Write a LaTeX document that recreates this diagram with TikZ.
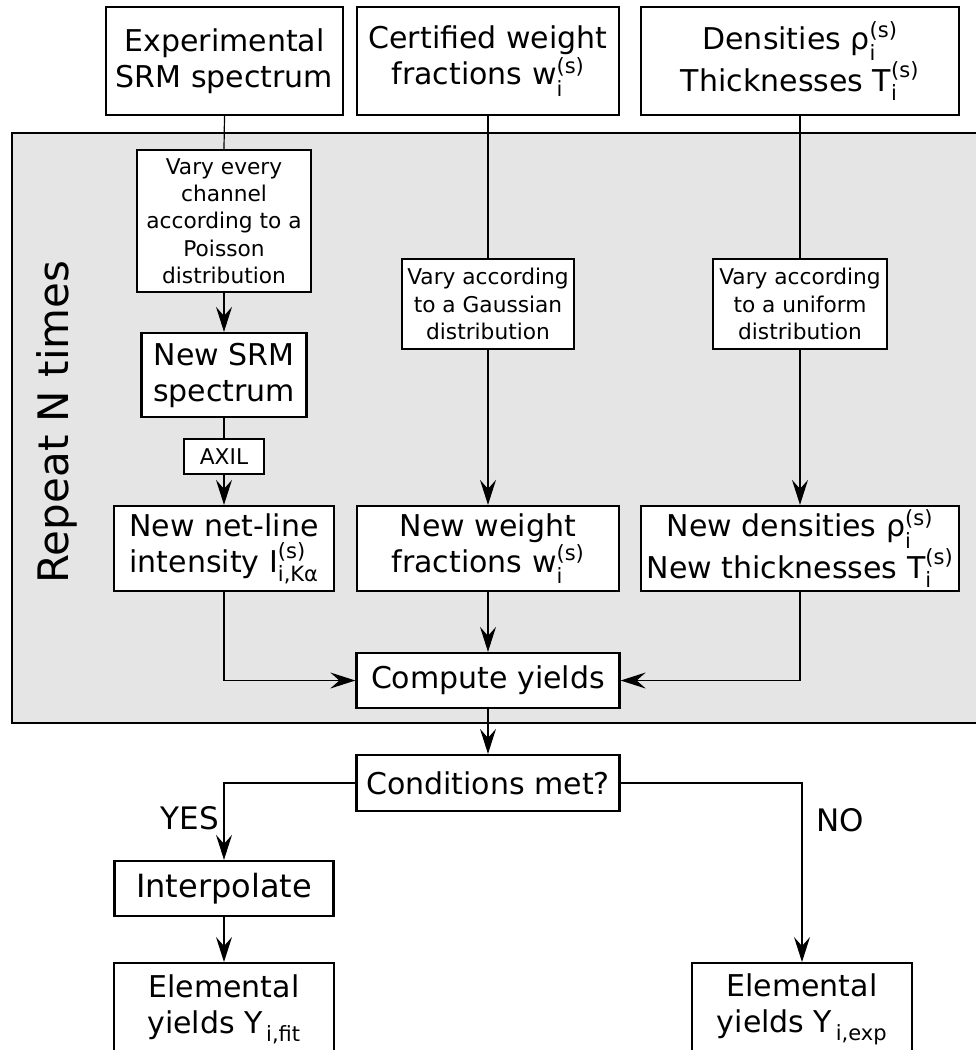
\documentclass[tikz,border=0pt]{standalone}
\usepackage{amsmath}
\usepackage{fontspec}
\setmainfont{DejaVu Sans}
\usetikzlibrary{arrows.meta}
% symbol with text subscript and superscript
\newcommand\symss[3]{\ensuremath{\text{#1}_{\text{#2}}^{\text{#3}}}}
\newcommand\symsub[2]{\ensuremath{\text{#1}_{\,\text{#2}}}}
\definecolor{loopgray}{HTML}{E5E5E5}
\tikzset{
  box/.style={draw, line width=2.3pt, fill=white, align=center, inner sep=0pt,
    font=\fontsize{30}{36}\selectfont},
  sbox/.style={box, font=\fontsize{21.7}{27.3}\selectfont},
  link/.style={line width=1.2pt},
  arr/.style={link, -{Stealth[length=25pt,width=16pt,inset=9pt]}},
  lab/.style={inner sep=0pt, font=\fontsize{31}{36}\selectfont}
}
\begin{document}
\begin{tikzpicture}[x=1pt,y=-1pt]
\useasboundingbox (0,0) rectangle (976,1050);
\clip (0,0) rectangle (976,1050);

% repeated block
\draw[fill=loopgray, line width=1.2pt] (12,133) rectangle (990,723);
\node[rotate=90, inner sep=0pt, font=\fontsize{42}{50}\selectfont] (rep) at (57,422) {Repeat N times};

% inputs
\node[box, minimum width=237pt, minimum height=108pt] (exp) at (224.5,61) {Experimental\\SRM spectrum};
\node[box, minimum width=262pt, minimum height=108pt] (cert) at (488,61) {Certified weight\\fractions \symss{w}{i}{(s)}};
\node[box, minimum width=318pt, minimum height=108pt] (dens) at (800,61) {Densities \symss{ρ}{i}{(s)}\\Thicknesses \symss{T}{i}{(s)}};

% variation steps
\node[sbox, minimum width=174pt, minimum height=142pt] (pois) at (224,221) {Vary every\\channel\\according to a\\Poisson\\distribution};
\node[sbox, minimum width=172pt, minimum height=90pt] (gauss) at (488,304) {Vary according\\to a Gaussian\\distribution};
\node[sbox, minimum width=174pt, minimum height=90pt] (unif) at (800,304) {Vary according\\to a uniform\\distribution};

\node[box, minimum width=165pt, minimum height=84pt] (nsrm) at (224,375) {New SRM\\spectrum};
\node[sbox, minimum width=80pt, minimum height=35pt] (axil) at (224,456.5) {AXIL};

% varied quantities
\node[box, minimum width=220pt, minimum height=85pt] (net) at (224,548.5) {New net-line\\intensity \symss{I}{i,Kα}{(s)}};
\node[box, minimum width=262pt, minimum height=85pt] (nw) at (488,548.5) {New weight\\fractions \symss{w}{i}{(s)}};
\node[box, minimum width=318pt, minimum height=85pt] (nd) at (800,548.5) {New densities \symss{ρ}{i}{(s)}\\New thicknesses \symss{T}{i}{(s)}};

\node[box, minimum width=263pt, minimum height=55pt] (comp) at (488,680.5) {Compute yields};

% decision and results
\node[box, minimum width=263pt, minimum height=56pt] (cond) at (488,783) {Conditions met?};
\node[box, minimum width=219pt, minimum height=55pt, font=\fontsize{32}{38}\selectfont] (interp) at (224,888.5) {Interpolate};
\node[box, anchor=north, minimum width=220pt, minimum height=92pt] (yfit) at (224,962) {Elemental\\yields \symsub{Y}{i,fit}};
\node[box, anchor=north, minimum width=220pt, minimum height=92pt] (yexp) at (802,962) {Elemental\\yields \symsub{Y}{i,exp}};

\node[lab, anchor=east] (yes) at (219,818) {YES};
\node[lab, anchor=west] (no) at (816,820) {NO};

% connectors
\draw[link] (exp.south) -- (pois.north);
\draw[arr] (pois.south) -- (nsrm.north);
\draw[link] (nsrm.south) -- (axil.north);
\draw[arr] (axil.south) -- (net.north);

\draw[link] (cert.south) -- (gauss.north);
\draw[arr] (gauss.south) -- (nw.north);

\draw[link] (dens.south) -- (unif.north);
\draw[arr] (unif.south) -- (nd.north);

\draw[arr] (net.south) |- (comp.west);
\draw[arr] (nw.south) -- (comp.north);
\draw[arr] (nd.south) |- (comp.east);

\draw[arr] (comp.south) -- (cond.north);
\draw[arr] (cond.west) -| (interp.north);
\draw[arr] (interp.south) -- (yfit.north);
\draw[arr] (cond.east) -| (yexp.north);
\end{tikzpicture}
\end{document}
